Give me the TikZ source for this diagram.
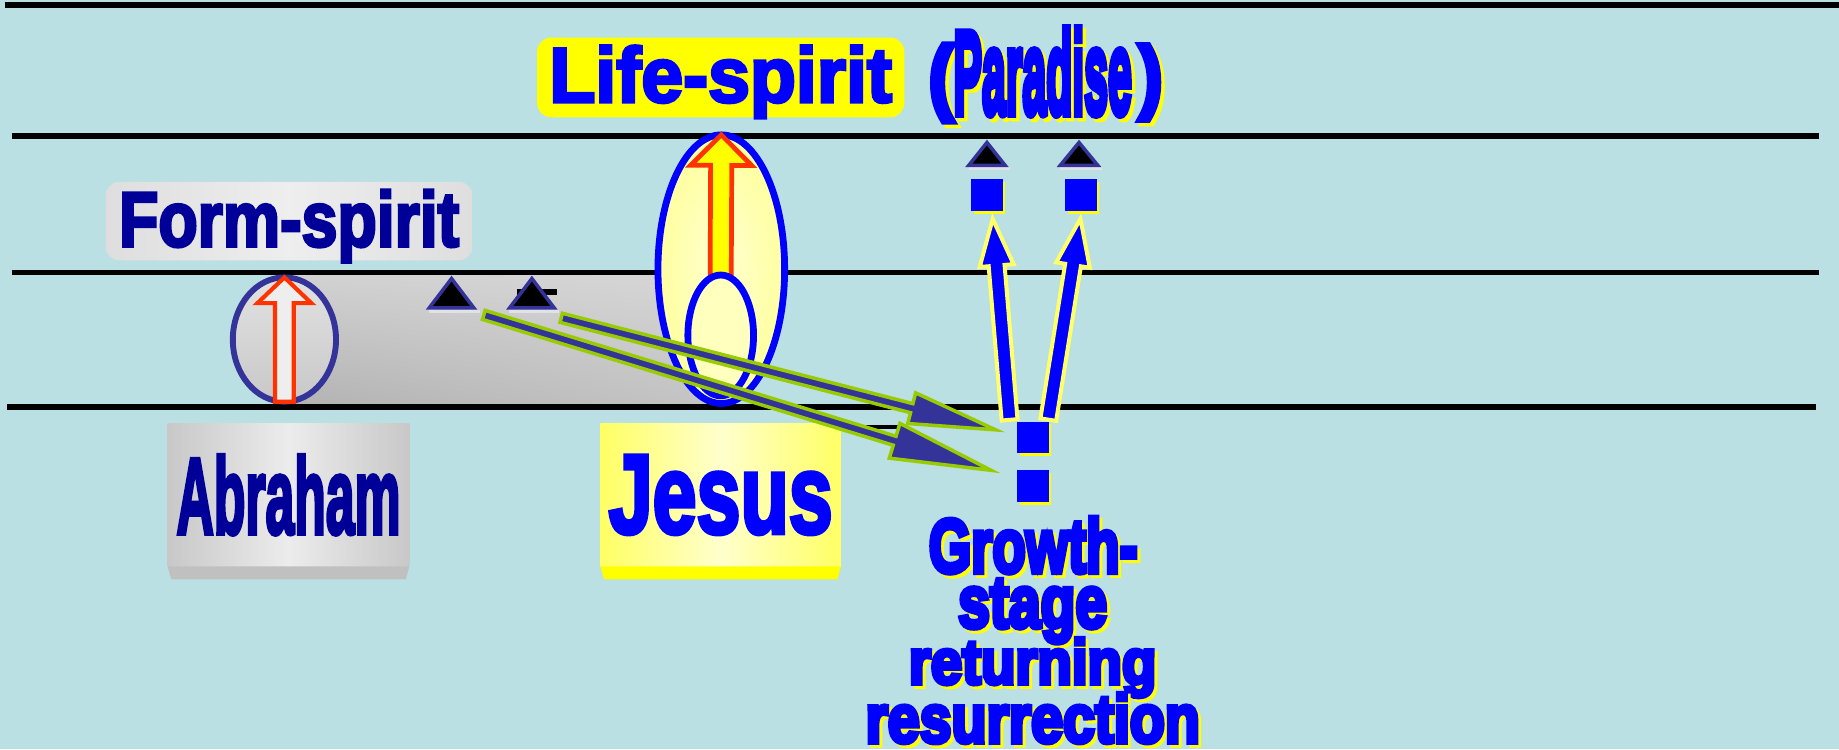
\documentclass[tikz,border=0pt]{standalone}
\usepackage{fontspec}
\setmainfont{Liberation Sans}
\newfontfamily\hv{Liberation Sans}[UprightFeatures={FakeBold=4}, BoldFeatures={FakeBold=4}]
\newfontfamily\hvx{Liberation Sans}[UprightFeatures={FakeBold=7}, BoldFeatures={FakeBold=7}]
\usetikzlibrary{calc,shapes.geometric,shadows,shadings}
\newlength\pxu
\setlength\pxu{0.02cm}
\definecolor{bgc}{RGB}{186,224,227}
\definecolor{navy}{RGB}{0,0,153}
\definecolor{pblue}{RGB}{0,0,255}
\definecolor{slate}{RGB}{51,51,153}
\definecolor{lgreen}{RGB}{153,204,0}
\definecolor{rorange}{RGB}{255,51,0}
\definecolor{pyellow}{RGB}{255,255,0}
\definecolor{shyel}{RGB}{255,255,0}
\definecolor{ayel}{RGB}{255,255,102}
\definecolor{bandUL}{RGB}{210,210,210}
\definecolor{bandUR}{RGB}{214,214,214}
\definecolor{bandLL}{RGB}{178,178,178}
\definecolor{bandLR}{RGB}{196,196,196}
\definecolor{abTop}{RGB}{226,226,226}
\definecolor{abBot}{RGB}{200,200,200}
\definecolor{abArrow}{RGB}{238,238,238}
\definecolor{jIn}{RGB}{255,255,210}
\definecolor{jOut}{RGB}{255,255,160}
\definecolor{jIn2}{RGB}{255,255,190}
\definecolor{grL}{RGB}{222,222,222}
\definecolor{grM}{RGB}{238,238,238}
\definecolor{abL}{RGB}{200,200,200}
\definecolor{abM}{RGB}{236,236,236}
\definecolor{abBev}{RGB}{192,192,192}
\definecolor{jsL}{RGB}{255,255,100}
\definecolor{jsM}{RGB}{255,255,205}
\definecolor{tshadow}{RGB}{225,225,232}
\newcommand\blockarrow[7]{%
  \coordinate (#2) at ($(#4)!#7*0.02cm!(#3)$);
  \draw[#1] ($(#3)!#5*0.02cm!90:(#4)$) -- ($(#2)!#5*0.02cm!-90:(#3)$)
    -- ($(#2)!#6*0.02cm!-90:(#3)$) -- (#4) -- ($(#2)!#6*0.02cm!90:(#3)$)
    -- ($(#2)!#5*0.02cm!90:(#3)$) -- ($(#3)!#5*0.02cm!-90:(#4)$) -- cycle;}
\newcommand\shtext[5]{%
  \node[txt, text=shyel, anchor=#3] (#1s) at ($#2+(#5,#5)$) {#4};
  \node[txt, text=pblue, anchor=#3] (#1) at #2 {#4};}
\begin{document}
\begin{tikzpicture}[x=0.02cm, y=-0.02cm,
  hline/.style={black, line width=2.6pt},
  lbl/.style={rounded corners=6.8pt, inner sep=0pt, outer sep=0pt},
  txt/.style={inner sep=0pt, outer sep=0pt},
  tri/.style={fill=black, draw=slate, line width=1.7pt, line join=miter},
  sq/.style={fill=pblue, minimum size=27*\pxu, inner sep=0pt, outer sep=0pt,
    general shadow={fill=shyel, shadow xshift=1.3pt, shadow yshift=-1.3pt}},
  barrow/.style={fill=slate, draw=lgreen, line width=1.7pt, line join=miter},
  varrow/.style={fill=pblue, draw=ayel, line width=1.95pt, line join=miter},
  oarrow/.style={draw=rorange, line join=miter},
  ell/.style={ellipse, inner sep=0pt, outer sep=0pt}]
\fill[bgc] (0,0) rectangle (1568,639);
\useasboundingbox (0,0) rectangle (1568,639);
% grey band
\shade[upper left=bandUL, upper right=bandUR, lower left=bandLL, lower right=bandLR] (242.5,233) rectangle (615,347);
% horizontal lines
\draw[hline] (4,4.3) -- (1568,4.3);
\draw[hline] (10,116) -- (1551,116);
\draw[hline] (10,232.5) -- (1551,232.5);
\draw[hline] (6,347) -- (1548.5,347);
\draw[black, line width=2.2pt] (700,364) -- (768,364);
% labels
\node[lbl, left color=grL, right color=grL, middle color=grM, text=navy,
  minimum width=313*\pxu, minimum height=67*\pxu, text height=48*\pxu, text depth=5*\pxu]
  (form) at (246.5,188.5) {\resizebox{290\pxu}{48\pxu}{\hv\bfseries Form-spirit}};
\node[lbl, fill=pyellow, text=pblue,
  minimum width=313*\pxu, minimum height=68*\pxu, text height=48*\pxu, text depth=6*\pxu]
  (life) at (614.5,66) {\resizebox{292\pxu}{48\pxu}{\hv\bfseries Life-spirit}};
\shtext{par}{(792,97)}{base west}{\raisebox{8\pxu}{\resizebox*{21\pxu}{66\pxu}{\hvx\bfseries (}}\resizebox{152\pxu}{73\pxu}{\hvx\bfseries Paradise}\hspace{6\pxu}\raisebox{9\pxu}{\resizebox*{20\pxu}{64\pxu}{\hvx\bfseries )}}}{3}
% Abraham ellipse and arrow
\node[ell, draw=slate, line width=2.85pt, minimum width=88*\pxu, minimum height=106*\pxu,
  top color=abTop, bottom color=abBot] (aell) at (242.5,289.5) {};
\blockarrow{oarrow, fill=abArrow, line width=2pt}{ah}{aell.south}{aell.north}{8}{23}{22}
% Jesus ellipses and arrow
\node[ell, draw=pblue, line width=3.3pt, minimum width=108*\pxu, minimum height=229*\pxu,
  inner color=jIn, outer color=jOut] (jout) at (615,229.5) {};
\coordinate (jbase) at (614.5,236.5);
\blockarrow{oarrow, fill=pyellow, line width=2.28pt}{jh}{jbase}{jout.north}{9}{26}{26}
\node[ell, draw=pblue, line width=3.3pt, minimum width=56*\pxu, minimum height=103*\pxu,
  fill=jIn2] (jin) at (614.5,286) {};
% name boxes
\node[inner sep=0pt, outer sep=0pt, minimum width=206*\pxu, minimum height=122*\pxu,
  left color=abL, right color=abL, middle color=abM, text=navy]
  (abox) at (246,422) {\resizebox{191\pxu}{67\pxu}{\hv\bfseries Abraham}};
\fill[abBev] (abox.south west) -- (abox.south east) -- ($(abox.south east)+(-3,11)$) -- ($(abox.south west)+(3,11)$) -- cycle;
\node[inner sep=0pt, outer sep=0pt, minimum width=205*\pxu, minimum height=122*\pxu,
  left color=jsL, right color=jsL, middle color=jsM, text=pblue]
  (jbox) at (614.5,422) {\resizebox{191\pxu}{66\pxu}{\hv\bfseries Jesus}};
\fill[pyellow] (jbox.south west) -- (jbox.south east) -- ($(jbox.south east)+(-3,11)$) -- ($(jbox.south west)+(3,11)$) -- cycle;
% triangles
\fill[black] (441,246.5) rectangle (475,251.5);
\fill[tshadow] (366,264) rectangle (409,266.5);
\draw[tri] (385,237.5) -- (404,262.5) -- (366,262.5) -- cycle;
\fill[tshadow] (434,264) rectangle (477,266.5);
\draw[tri] (453.5,237.5) -- (472.5,262.5) -- (434.5,262.5) -- cycle;
\fill[tshadow] (826,142.5) rectangle (861,145);
\draw[tri] (841.5,121.5) -- (857,141) -- (826,141) -- cycle;
\fill[tshadow] (904,142.5) rectangle (940,145);
\draw[tri] (920,121.5) -- (936,141) -- (904,141) -- cycle;
% big arrows
\coordinate (u0) at (478.5,271); \coordinate (u1) at (849,366.5);
\coordinate (l0) at (412.5,268.5); \coordinate (l1) at (845,401);
\blockarrow{barrow}{uh}{u0}{u1}{4}{13.5}{74}
\blockarrow{barrow}{lh}{l0}{l1}{4}{15.5}{86}
% vertical blue arrows
\coordinate (va0) at (860.8,358); \coordinate (va1) at (846.4,186.6);
\coordinate (vb0) at (893.8,357.8); \coordinate (vb1) at (921.2,186.5);
\blockarrow{varrow}{vah}{va0}{va1}{6.8}{14.5}{40}
\blockarrow{varrow}{vbh}{vb0}{vb1}{6.8}{14.5}{40}
% squares
\node[sq] (sqA) at (841.5,166.5) {};
\node[sq] (sqB) at (921.5,166.5) {};
\node[sq] (sqC) at (880.5,373) {};
\node[sq] (sqD) at (880.5,414.5) {};
% growth text
\shtext{g1}{(792,488)}{base west}{\resizebox{178\pxu}{47\pxu}{\hvx\bfseries Growth-}}{2.5}
\shtext{g2}{(817,535)}{base west}{\resizebox{127\pxu}{41\pxu}{\hvx\bfseries stage}}{2.5}
\shtext{g3}{(775,583)}{base west}{\resizebox{211\pxu}{39\pxu}{\hvx\bfseries returning}}{2.5}
\shtext{g4}{(738,633)}{base west}{\resizebox{285\pxu}{42\pxu}{\hvx\bfseries resurrection}}{2.5}
\end{tikzpicture}
\end{document}
